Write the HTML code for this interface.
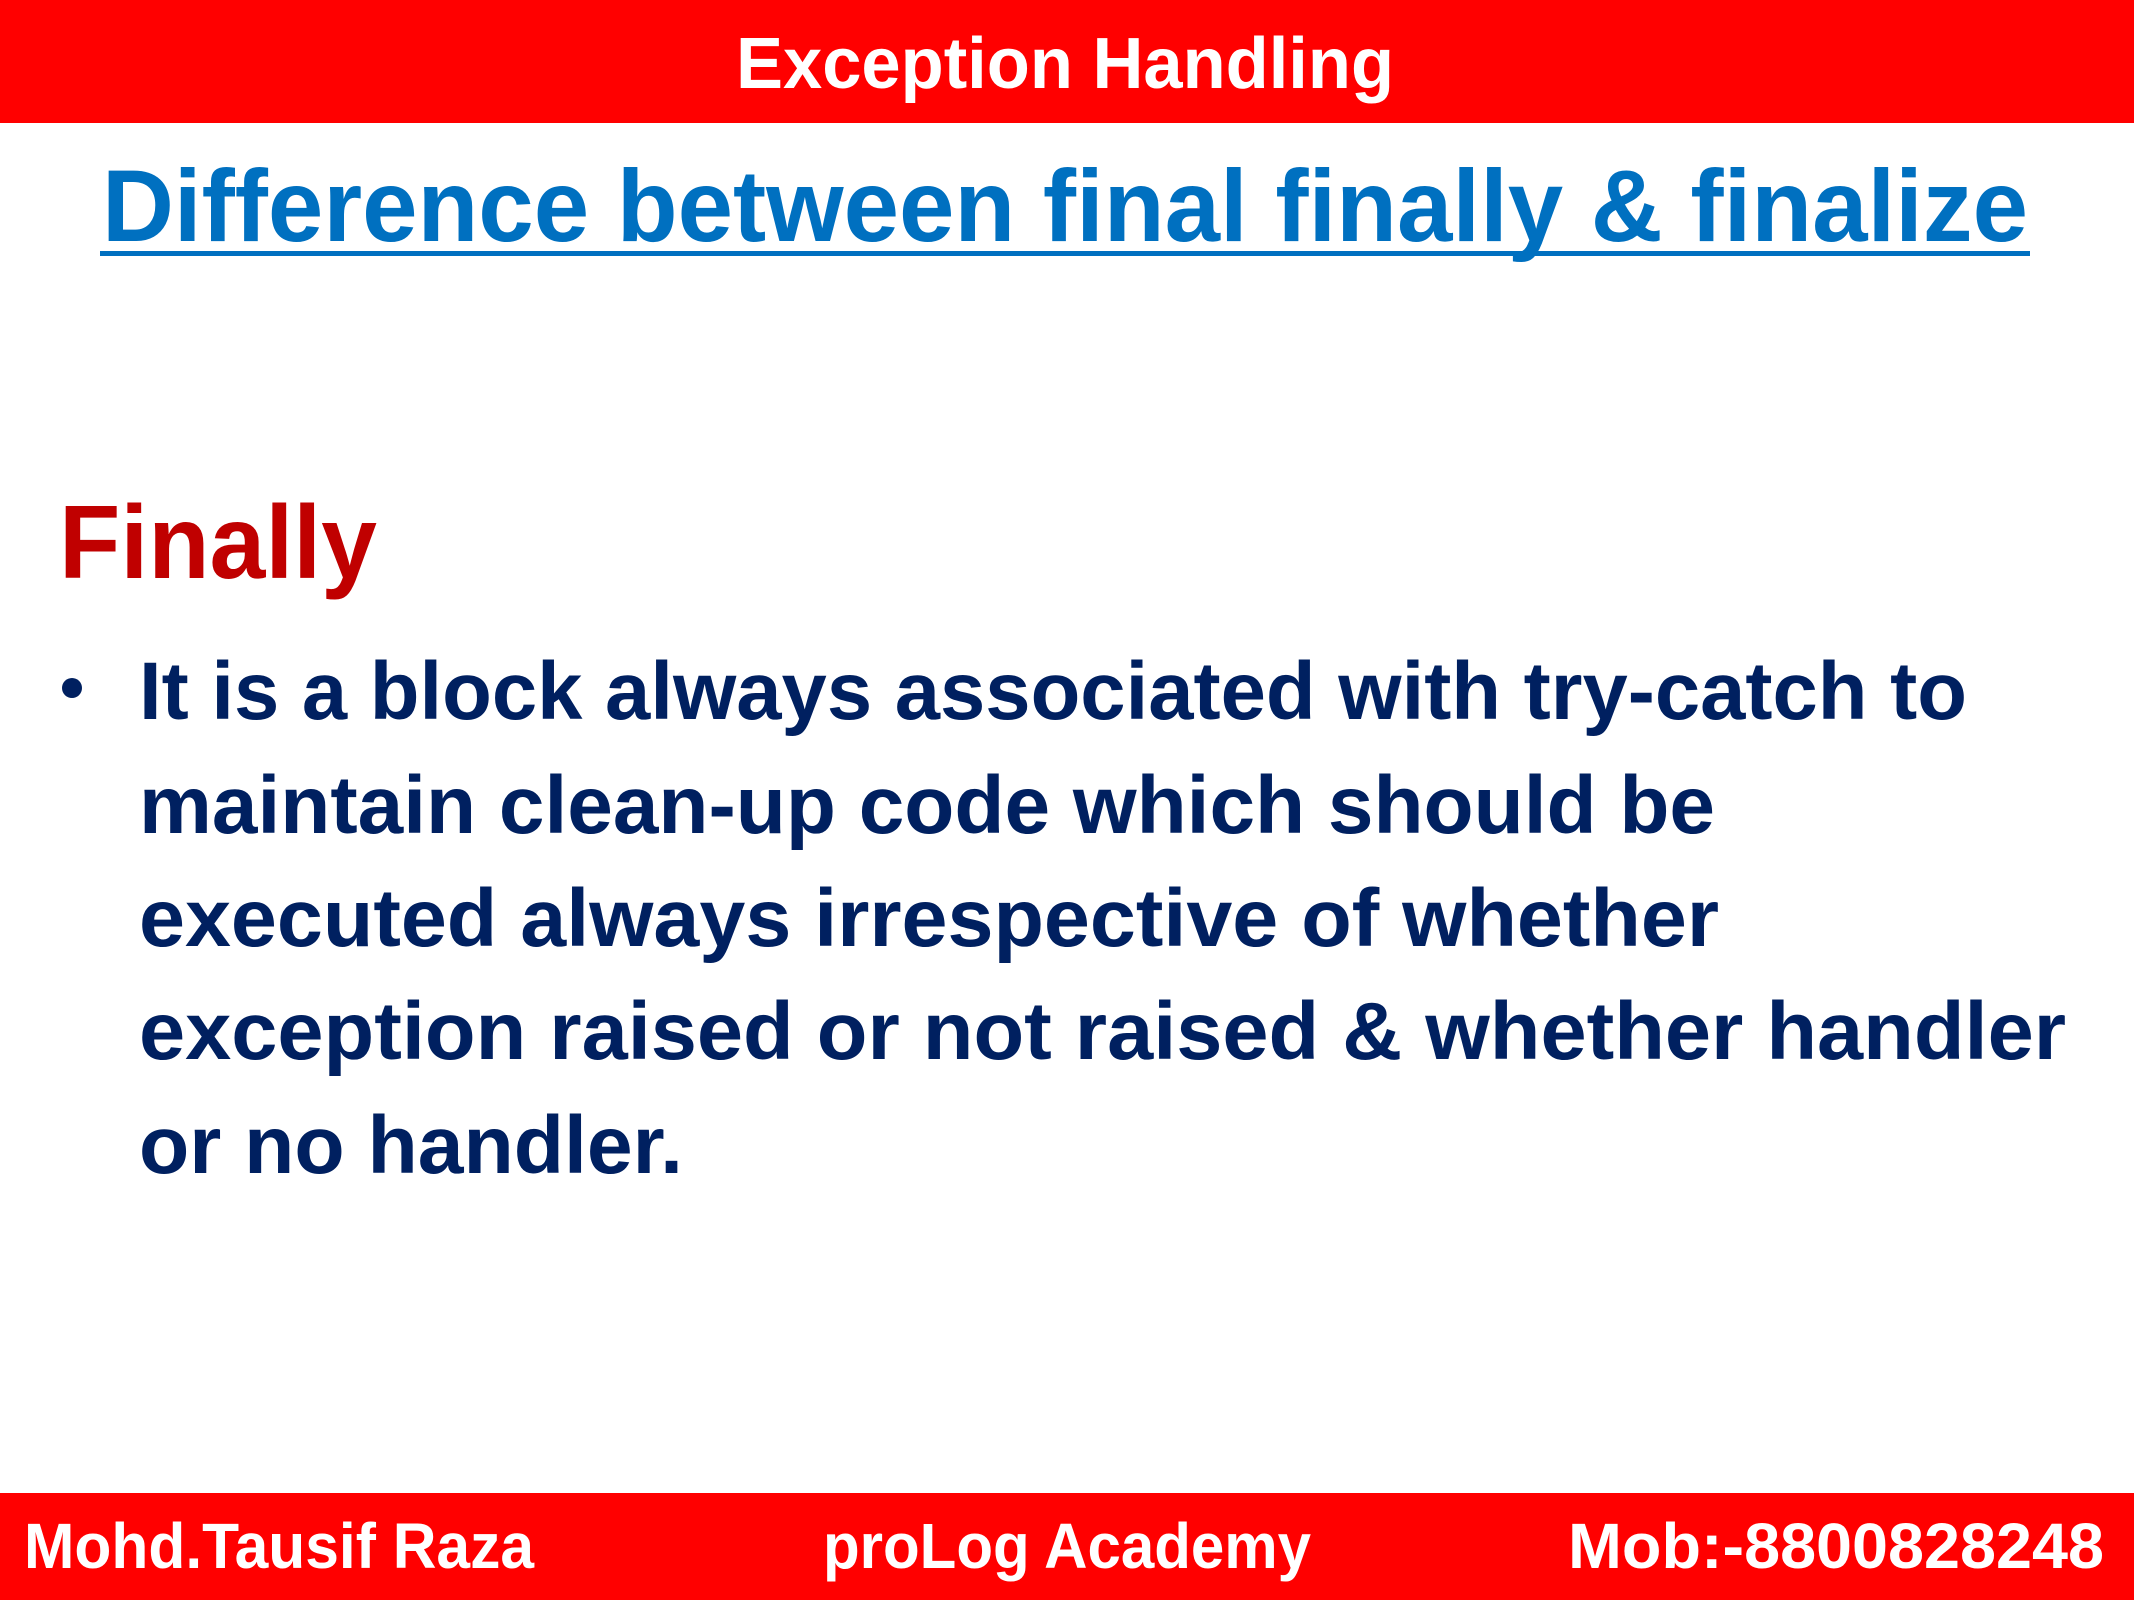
<!DOCTYPE html>
<html><head><meta charset="utf-8"><style>
html,body{margin:0;padding:0;background:#fff}
svg{display:block}
text{font-family:"Liberation Sans",sans-serif;font-weight:bold}
</style></head><body>
<svg width="2134" height="1600" viewBox="0 0 2134 1600">
<rect x="0" y="0" width="2134" height="123" fill="#FF0000"/>
<text x="736" y="88" font-size="72" fill="#fff" textLength="658" lengthAdjust="spacingAndGlyphs">Exception Handling</text>
<text x="102" y="241" font-size="102" fill="#0070C0" textLength="1926" lengthAdjust="spacingAndGlyphs">Difference between final finally &amp; finalize</text>
<rect x="100" y="251" width="1930" height="5" fill="#0070C0"/>
<text x="59" y="578" font-size="104" fill="#C00000" textLength="318" lengthAdjust="spacingAndGlyphs">Finally</text>
<circle cx="72" cy="688" r="10" fill="#002060"/>
<g fill="#002060" font-size="82">
<text x="139" y="719" textLength="1828" lengthAdjust="spacingAndGlyphs">It is a block always associated with try-catch to</text>
<text x="139" y="833" textLength="1576" lengthAdjust="spacingAndGlyphs">maintain clean-up code which should be</text>
<text x="139" y="946" textLength="1580" lengthAdjust="spacingAndGlyphs">executed always irrespective of whether</text>
<text x="139" y="1059" textLength="1927" lengthAdjust="spacingAndGlyphs">exception raised or not raised &amp; whether handler</text>
<text x="139" y="1173" textLength="544" lengthAdjust="spacingAndGlyphs">or no handler.</text>
</g>
<rect x="0" y="1493" width="2134" height="107" fill="#FF0000"/>
<text x="24" y="1568" font-size="64" fill="#fff" textLength="510" lengthAdjust="spacingAndGlyphs">Mohd.Tausif Raza</text>
<text x="823" y="1568" font-size="64" fill="#fff" textLength="488" lengthAdjust="spacingAndGlyphs">proLog Academy</text>
<text x="1568" y="1568" font-size="64" fill="#fff" textLength="536" lengthAdjust="spacingAndGlyphs">Mob:-8800828248</text>
</svg>
</body></html>
